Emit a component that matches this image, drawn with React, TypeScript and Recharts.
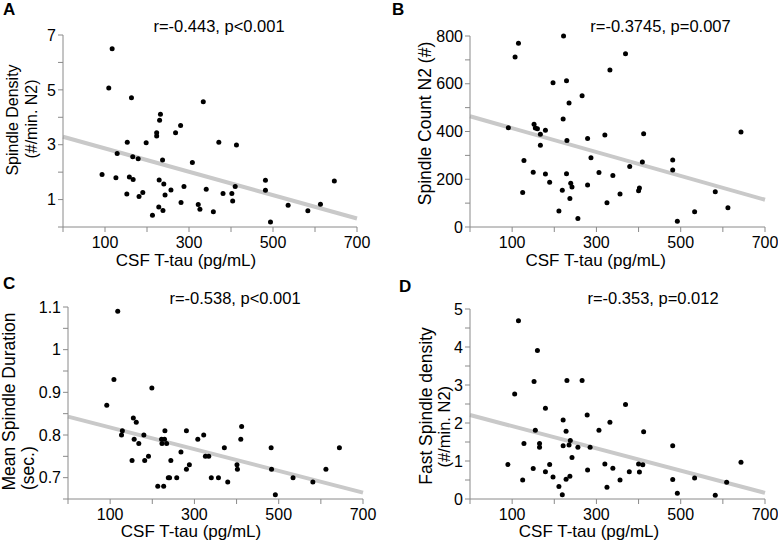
import React from 'react';
import { ScatterChart, Scatter, XAxis, YAxis, ReferenceLine } from 'recharts';

// CSF T-tau (pg/mL) read per panel, with the matching outcome values
const tauA = [117, 109, 163, 93, 126, 129, 153, 158, 167, 166, 179, 152, 181, 190, 198, 223, 223, 232, 230, 237, 229, 240, 243, 257, 213, 228, 238, 268, 280, 281, 288, 308, 322, 326, 334, 341, 358, 371, 381, 402, 404, 410, 413, 482, 482, 494, 536, 583, 613, 646];
const spindleDensity = [6.5, 5.07, 4.71, 1.91, 1.8, 2.68, 3.09, 1.82, 1.73, 2.56, 2.49, 1.2, 1.11, 1.26, 3.07, 3.44, 3.32, 4.11, 3.89, 2.44, 1.71, 1.57, 1.17, 1.35, 0.43, 0.73, 0.6, 3.44, 3.7, 0.89, 1.48, 2.35, 0.82, 0.65, 4.57, 1.38, 0.56, 3.09, 1.22, 1.22, 0.95, 1.48, 2.99, 1.7, 1.34, 0.18, 0.79, 0.59, 0.83, 1.68];

const tauB = [115, 107, 222, 369, 332, 197, 229, 266, 235, 221, 91, 152, 155, 160, 167, 179, 167, 230, 279, 320, 412, 643, 128, 287, 150, 179, 229, 306, 339, 379, 409, 481, 481, 189, 239, 242, 279, 219, 402, 400, 125, 237, 356, 582, 211, 256, 325, 533, 612, 492];
const spindleCount = [770, 712, 800, 726, 658, 604, 613, 550, 519, 452, 416, 430, 415, 412, 388, 405, 342, 362, 371, 385, 391, 398, 279, 290, 229, 222, 223, 228, 216, 253, 272, 281, 239, 187, 183, 168, 176, 154, 163, 152, 145, 119, 138, 148, 67, 36, 102, 64, 81, 24];

const tauC = [118, 109, 199, 92, 155, 162, 127, 157, 168, 152, 182, 191, 180, 230, 222, 229, 223, 234, 213, 227, 238, 241, 244, 258, 268, 281, 281, 288, 308, 322, 326, 334, 340, 357, 371, 379, 401, 402, 410, 412, 482, 483, 492, 534, 581, 612, 644, 129];
const spindleDuration = [1.09, 0.93, 0.91, 0.87, 0.84, 0.83, 0.8, 0.79, 0.78, 0.74, 0.74, 0.75, 0.8, 0.81, 0.79, 0.79, 0.78, 0.78, 0.68, 0.68, 0.7, 0.7, 0.74, 0.7, 0.76, 0.81, 0.72, 0.73, 0.79, 0.8, 0.75, 0.75, 0.7, 0.7, 0.77, 0.69, 0.73, 0.72, 0.79, 0.82, 0.77, 0.72, 0.66, 0.7, 0.69, 0.72, 0.77, 0.81];

const tauD = [115, 160, 152, 230, 266, 106, 369, 179, 278, 221, 332, 155, 228, 306, 412, 128, 165, 165, 238, 235, 221, 256, 285, 481, 242, 643, 90, 189, 320, 400, 410, 150, 339, 179, 279, 378, 402, 197, 237, 228, 125, 356, 481, 533, 211, 325, 219, 492, 582, 609];
const fastDensity = [4.69, 3.91, 3.09, 3.12, 3.12, 2.76, 2.49, 2.39, 2.21, 2.08, 2.02, 1.81, 1.78, 1.81, 1.77, 1.46, 1.46, 1.36, 1.54, 1.42, 1.4, 1.36, 1.36, 1.4, 1.09, 0.97, 0.91, 0.91, 0.92, 0.92, 0.9, 0.8, 0.81, 0.72, 0.76, 0.72, 0.71, 0.58, 0.6, 0.52, 0.5, 0.5, 0.51, 0.55, 0.33, 0.31, 0.11, 0.15, 0.1, 0.44];

// regression line values at tau = 0 and tau = 700
const fitA = [3.29, 0.31];
const fitB = [464, 114];
const fitC = [0.843, 0.665];
const fitD = [2.21, 0.16];

const tauTicks = [0, 100, 200, 300, 400, 500, 600, 700];
const tauTickLabels = ['', '100', '', '300', '', '500', '', '700'];

const densityTicks = [0, 1, 2, 3, 4, 5, 6, 7];
const densityTickLabels = ['', '1', '', '3', '', '5', '', '7'];
const countTicks = [0, 100, 200, 300, 400, 500, 600, 700, 800];
const countTickLabels = ['0', '', '200', '', '400', '', '600', '', '800'];
const durationTicks = [0.65, 0.7, 0.75, 0.8, 0.85, 0.9, 0.95, 1, 1.05, 1.1];
const durationTickLabels = ['', '0.7', '', '0.8', '', '0.9', '', '1', '', '1.1'];
const fastTicks = [0, 0.5, 1, 1.5, 2, 2.5, 3, 3.5, 4, 4.5, 5];
const fastTickLabels = ['0', '', '1', '', '2', '', '3', '', '4', '', '5'];

const FONT = '"Liberation Sans", Arial, Helvetica, sans-serif';
const AXIS = '#8a8a8a';

const zip = (xs: number[], ys: number[]) => xs.map((x, i) => ({ x, y: ys[i] }));

const Dot = (props: any) => <circle cx={props.cx} cy={props.cy} r={2.5} fill="#000" />;

type PanelProps = {
  left: number;
  top: number;
  width: number;
  height: number;
  plotLeft: number;
  plotRight: number;
  plotTop: number;
  plotBottom: number;
  data: { x: number; y: number }[];
  yTicks: number[];
  yLabels: string[];
  fit: number[];
};

function Panel(p: PanelProps) {
  const domain: [number, number] = [p.yTicks[0], p.yTicks[p.yTicks.length - 1]];
  return (
    <div style={{ position: 'absolute', left: p.left, top: p.top }}>
      <ScatterChart
        width={p.width}
        height={p.height}
        margin={{ top: p.plotTop, right: p.width - p.plotRight, bottom: 0, left: 0 }}
      >
        <XAxis
          type="number"
          dataKey="x"
          domain={[0, 700]}
          ticks={tauTicks}
          interval={0}
          tickFormatter={(v: number, i: number) => tauTickLabels[i]}
          height={p.height - p.plotBottom}
          tickSize={5}
          tickMargin={5}
          axisLine={{ stroke: AXIS }}
          tickLine={{ stroke: AXIS }}
          tick={{ fill: '#000', fontSize: 16, fontFamily: FONT }}
        />
        <YAxis
          type="number"
          dataKey="y"
          domain={domain}
          ticks={p.yTicks}
          interval={0}
          tickFormatter={(v: number, i: number) => p.yLabels[i]}
          width={p.plotLeft}
          tickSize={5}
          tickMargin={2}
          axisLine={{ stroke: AXIS }}
          tickLine={{ stroke: AXIS }}
          tick={{ fill: '#000', fontSize: 16, fontFamily: FONT }}
        />
        <Scatter data={p.data} shape={Dot} isAnimationActive={false} />
        <ReferenceLine
          segment={[
            { x: 0, y: p.fit[0] },
            { x: 700, y: p.fit[1] },
          ]}
          stroke="#c9c9c9"
          strokeWidth={4}
          ifOverflow="visible"
        />
      </ScatterChart>
    </div>
  );
}

export default function App() {
  const t = { fontFamily: FONT, fill: '#000' };
  return (
    <div style={{ position: 'absolute', left: 0, top: 0, width: 778, height: 543, background: '#fff' }}>
      <Panel left={0} top={0} width={389} height={272} plotLeft={63} plotRight={357} plotTop={35} plotBottom={227}
        data={zip(tauA, spindleDensity)} yTicks={densityTicks} yLabels={densityTickLabels} fit={fitA} />
      <Panel left={389} top={0} width={389} height={272} plotLeft={81} plotRight={376} plotTop={36} plotBottom={227}
        data={zip(tauB, spindleCount)} yTicks={countTicks} yLabels={countTickLabels} fit={fitB} />
      <Panel left={0} top={272} width={389} height={271} plotLeft={68} plotRight={363} plotTop={35} plotBottom={227}
        data={zip(tauC, spindleDuration)} yTicks={durationTicks} yLabels={durationTickLabels} fit={fitC} />
      <Panel left={389} top={272} width={389} height={271} plotLeft={81} plotRight={376} plotTop={37} plotBottom={227}
        data={zip(tauD, fastDensity)} yTicks={fastTicks} yLabels={fastTickLabels} fit={fitD} />

      <svg width={778} height={543} style={{ position: 'absolute', left: 0, top: 0, pointerEvents: 'none' }}>
        {/* panel letters */}
        <text x={3} y={15} fontSize={17} fontWeight="bold" {...t}>A</text>
        <text x={392} y={15} fontSize={17} fontWeight="bold" {...t}>B</text>
        <text x={3} y={288.5} fontSize={17} fontWeight="bold" {...t}>C</text>
        <text x={399} y={292} fontSize={17} fontWeight="bold" {...t}>D</text>

        {/* correlation titles */}
        <text x={219} y={31.5} fontSize={16.5} textAnchor="middle" {...t}>r=-0.443, p&lt;0.001</text>
        <text x={660.5} y={31.5} fontSize={16.5} textAnchor="middle" {...t}>r=-0.3745, p=0.007</text>
        <text x={235} y={303.5} fontSize={16.5} textAnchor="middle" {...t}>r=-0.538, p&lt;0.001</text>
        <text x={653} y={303.5} fontSize={16.5} textAnchor="middle" {...t}>r=-0.353, p=0.012</text>

        {/* x axis titles */}
        <text x={186} y={265.5} fontSize={17} textAnchor="middle" {...t}>CSF T-tau (pg/mL)</text>
        <text x={595.7} y={266} fontSize={17} textAnchor="middle" {...t}>CSF T-tau (pg/mL)</text>
        <text x={191} y={537} fontSize={17} textAnchor="middle" {...t}>CSF T-tau (pg/mL)</text>
        <text x={589} y={537} fontSize={17} textAnchor="middle" {...t}>CSF T-tau (pg/mL)</text>

        {/* y axis titles */}
        <text x={17.5} y={120} fontSize={16} textAnchor="middle" transform="rotate(-90 17.5 120)" {...t}>Spindle Density</text>
        <text x={37} y={119} fontSize={16} textAnchor="middle" transform="rotate(-90 37 119)" {...t}>(#/min. N2)</text>
        <text x={431} y={123.5} fontSize={17.5} textAnchor="middle" transform="rotate(-90 431 123.5)" {...t}>Spindle Count N2 (#)</text>
        <text x={15} y={401.5} fontSize={17.5} textAnchor="middle" transform="rotate(-90 15 401.5)" {...t}>Mean Spindle Duration</text>
        <text x={34} y={490} fontSize={17.5} textAnchor="start" transform="rotate(-90 34 490)" {...t}>(sec.)</text>
        <text x={432} y={406} fontSize={17.5} textAnchor="middle" transform="rotate(-90 432 406)" {...t}>Fast Spindle density</text>
        <text x={450} y={426.7} fontSize={16.5} textAnchor="middle" transform="rotate(-90 450 426.7)" {...t}>(#/min. N2)</text>
      </svg>
    </div>
  );
}
